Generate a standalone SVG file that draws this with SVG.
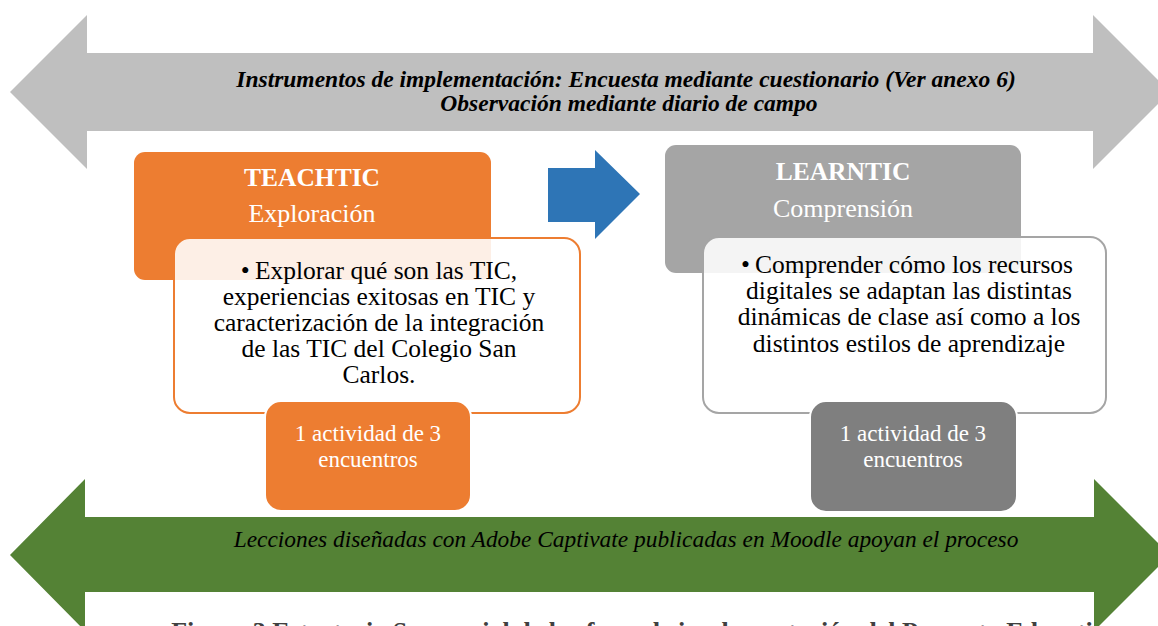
<svg xmlns="http://www.w3.org/2000/svg" width="1158" height="626" viewBox="0 0 1158 626">
<style>
.t{font-family:"Liberation Serif","Times New Roman",serif;text-anchor:middle}
.bi{font-weight:bold;font-style:italic;font-size:23.5px;fill:#000}
.it{font-style:italic;font-size:23.4px;fill:#000}
.hd{font-weight:bold;font-size:25.5px;fill:#fff}
.sub{font-size:26px;fill:#fff}
.body{font-size:25.5px;fill:#000}
.sm{font-size:23px;fill:#fff}
.cap{font-weight:bold;font-size:26px;fill:#404040}
</style>
<rect width="1158" height="626" fill="#fff"/>
<g id="connectors">
<polygon id="top-arrow" fill="#BFBFBF" points="10,92 87,15 87,53 1093,53 1093,15 1170,92 1093,169 1093,131 87,131 87,169"/>
<polygon id="bottom-arrow" fill="#548235" points="10,555 85,479 85,517 1094,517 1094,479 1170,555 1094,631 1094,592 85,592 85,631"/>
<polygon id="blue-arrow" fill="#2E75B6" points="548,168 595,168 595,150 640,194 595,239 595,222 548,222"/>
</g>
<g id="top-label">
<text class="t bi" x="626" y="87">Instrumentos de implementación: Encuesta mediante cuestionario (Ver anexo 6)</text>
<text class="t bi" x="629" y="111">Observación mediante diario de campo</text>
</g>
<g id="teachtic">
<rect x="134" y="152" width="357" height="128" rx="11" fill="#ED7D31"/>
<text class="t hd" x="312" y="186">TEACHTIC</text>
<text class="t sub" x="312" y="222">Exploración</text>
</g>
<g id="teachtic-detail">
<rect x="174" y="238" width="406" height="175" rx="16" fill="#fff" fill-opacity="0.88" stroke="#ED7D31" stroke-width="2"/>
<text class="t body" x="379" y="279">•&#8201;Explorar qué son las TIC,</text>
<text class="t body" x="379" y="305">experiencias exitosas en TIC y</text>
<text class="t body" x="379" y="331">caracterización de la integración</text>
<text class="t body" x="379" y="357">de las TIC del Colegio San</text>
<text class="t body" x="379" y="383">Carlos.</text>
</g>
<g id="teachtic-count">
<rect x="265" y="401" width="206" height="110" rx="16" fill="#ED7D31" stroke="#fff" stroke-width="2"/>
<text class="t sm" x="368" y="441">1 actividad de 3</text>
<text class="t sm" x="368" y="467">encuentros</text>
</g>
<g id="learntic">
<rect x="665" y="145" width="356" height="128" rx="11" fill="#A5A5A5"/>
<text class="t hd" x="843" y="180">LEARNTIC</text>
<text class="t sub" x="843" y="217">Comprensión</text>
</g>
<g id="learntic-detail">
<rect x="703" y="237" width="403" height="176" rx="16" fill="#fff" fill-opacity="0.88" stroke="#A5A5A5" stroke-width="2"/>
<text class="t body" x="907" y="273">•&#8201;Comprender cómo los recursos</text>
<text class="t body" x="909" y="299">digitales se adaptan las distintas</text>
<text class="t body" x="909" y="325">dinámicas de clase así como a los</text>
<text class="t body" x="909" y="352">distintos estilos de aprendizaje</text>
</g>
<g id="learntic-count">
<rect x="810" y="401" width="207" height="111" rx="16" fill="#7F7F7F" stroke="#fff" stroke-width="2"/>
<text class="t sm" x="913" y="441">1 actividad de 3</text>
<text class="t sm" x="913" y="467">encuentros</text>
</g>
<g id="bottom-label">
<text class="t it" x="626" y="547">Lecciones diseñadas con Adobe Captivate publicadas en Moodle apoyan el proceso</text>
</g>
<g id="caption">
<text class="t cap" x="645" y="640">Figura 3 Estrategia Secuencial de las fases de implementación del Proyecto Educativo</text>
</g>
</svg>
